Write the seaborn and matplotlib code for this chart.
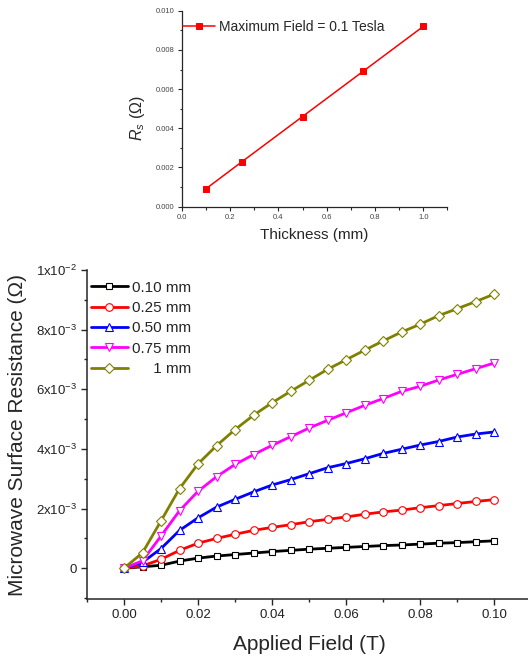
import numpy as np
import pandas as pd
import seaborn as sns
import matplotlib.pyplot as plt
from matplotlib.ticker import MultipleLocator, FuncFormatter

# applied field (T) and surface resistance (x1e-3 ohm) for each film thickness
field = [0.000, 0.005, 0.010, 0.015, 0.020, 0.025, 0.030, 0.035, 0.040, 0.045, 0.050,
         0.055, 0.060, 0.065, 0.070, 0.075, 0.080, 0.085, 0.090, 0.095, 0.100]
rs_010 = [0, 0.05, 0.10, 0.24, 0.34, 0.41, 0.46, 0.51, 0.56, 0.60, 0.64,
          0.67, 0.70, 0.73, 0.76, 0.78, 0.81, 0.84, 0.86, 0.89, 0.92]
rs_025 = [0, 0.08, 0.30, 0.60, 0.84, 1.00, 1.14, 1.27, 1.37, 1.46, 1.56,
          1.64, 1.72, 1.81, 1.89, 1.95, 2.03, 2.10, 2.17, 2.24, 2.30]
rs_050 = [0, 0.20, 0.66, 1.27, 1.69, 2.05, 2.31, 2.56, 2.79, 2.97, 3.17,
          3.37, 3.51, 3.67, 3.85, 3.99, 4.13, 4.25, 4.40, 4.50, 4.57]
rs_075 = [0, 0.25, 1.08, 1.93, 2.58, 3.07, 3.48, 3.81, 4.12, 4.41, 4.70,
          4.96, 5.21, 5.46, 5.69, 5.93, 6.10, 6.31, 6.50, 6.69, 6.88]
rs_100 = [0, 0.52, 1.59, 2.67, 3.50, 4.11, 4.65, 5.13, 5.55, 5.93, 6.30,
          6.67, 6.99, 7.31, 7.62, 7.92, 8.18, 8.47, 8.70, 8.94, 9.19]
labels = ['0.10 mm', '0.25 mm', '0.50 mm', '0.75 mm', '     1 mm']

# inset: Rs at max field vs thickness
thickness = [0.1, 0.25, 0.5, 0.75, 1.0]
rs_max = [0.00091, 0.0023, 0.0046, 0.0069, 0.0092]

sns.set_style('ticks')
plt.rcParams['font.family'] = ['Liberation Sans', 'DejaVu Sans']
plt.rcParams['mathtext.fontset'] = 'custom'
plt.rcParams['mathtext.rm'] = 'Liberation Sans'
plt.rcParams['mathtext.it'] = 'Liberation Sans:italic'

fig = plt.figure(figsize=(5.28, 6.57), dpi=100)

# ---- main plot
ax = fig.add_axes([0.1648, 0.0883, 0.8409, 0.5007])
series = [rs_010, rs_025, rs_050, rs_075, rs_100]
colors = ['black', '#ff0000', '#0000ff', '#ff00ff', '#808000']
markers = ['s', 'o', '^', 'v', 'D']
sizes = [5, 5.5, 6, 6, 5]
df = pd.DataFrame({'field': field})
for vals, lab, c, m, s in zip(series, labels, colors, markers, sizes):
    df['rs'] = np.array(vals) * 1e-3
    sns.lineplot(data=df, x='field', y='rs', color=c, marker=m, ms=s, lw=2,
                 mfc='white', mec=c, mew=0.8, label=lab, ax=ax)

ax.set_xlim(-0.01, 0.11)
ax.set_ylim(-0.00103, 0.01)
ax.xaxis.set_major_locator(MultipleLocator(0.02))
ax.xaxis.set_minor_locator(MultipleLocator(0.01))
ax.yaxis.set_major_locator(MultipleLocator(0.002))
ax.yaxis.set_minor_locator(MultipleLocator(0.001))
ax.xaxis.set_major_formatter(FuncFormatter(lambda v, p: f'{v:.2f}'))


def sci(v, p):
    if abs(v) < 1e-12:
        return '0'
    e = int(np.floor(np.log10(abs(v)) + 1e-9))
    m = v / 10 ** e
    return f'{m:.0f}x10$^{{{e}}}$'


ax.yaxis.set_major_formatter(FuncFormatter(sci))
ax.tick_params(which='major', direction='out', length=4.5, width=1, labelsize=9.5,
               labelcolor='#222222', pad=3)
ax.tick_params(which='minor', direction='out', length=2.5, width=1)
for sp in ['left', 'bottom']:
    ax.spines[sp].set_linewidth(1.1)
sns.despine(ax=ax)
ax.set_xlabel('Applied Field (T)', fontsize=15, labelpad=10)
ax.set_ylabel('Microwave Surface Resistance (Ω)', fontsize=15, labelpad=6)
ax.legend(loc='upper left', bbox_to_anchor=(0.009, 0.968), borderaxespad=0, borderpad=0,
          frameon=False, fontsize=11, handlelength=2.4, handletextpad=0.3, labelspacing=0.42)

# ---- inset plot
ax2 = fig.add_axes([0.3441, 0.6854, 0.5034, 0.2983])
sns.lineplot(x=thickness, y=rs_max, color='#ff0000', marker='s', ms=4.5, lw=1.1,
             mec='#ff0000', mfc='#ff0000', label='Maximum Field = 0.1 Tesla', ax=ax2)
ax2.set_xlim(0, 1.1)
ax2.set_ylim(0, 0.010)
ax2.xaxis.set_major_locator(MultipleLocator(0.2))
ax2.xaxis.set_minor_locator(MultipleLocator(0.1))
ax2.yaxis.set_major_locator(MultipleLocator(0.002))
ax2.yaxis.set_minor_locator(MultipleLocator(0.001))
ax2.xaxis.set_major_formatter(FuncFormatter(lambda v, p: f'{v:.1f}'))
ax2.yaxis.set_major_formatter(FuncFormatter(lambda v, p: f'{v:.3f}'))
ax2.tick_params(which='major', direction='out', length=3, width=0.8, labelsize=5.5,
                labelcolor='#444444', pad=2)
ax2.tick_params(which='minor', direction='out', length=1.8, width=0.8)
for sp in ['left', 'bottom']:
    ax2.spines[sp].set_linewidth(0.9)
sns.despine(ax=ax2)
ax2.set_xlabel('Thickness (mm)', fontsize=11, labelpad=5)
ax2.set_ylabel('$R_s$ (Ω)', fontsize=11.5)
ax2.yaxis.set_label_coords(-0.13, 0.45)
ax2.legend(loc='upper left', bbox_to_anchor=(0.006, 0.952), borderaxespad=0, borderpad=0,
           frameon=False, fontsize=10, handlelength=2.3, handletextpad=0.3)

fig.savefig('out.png', dpi=100)
